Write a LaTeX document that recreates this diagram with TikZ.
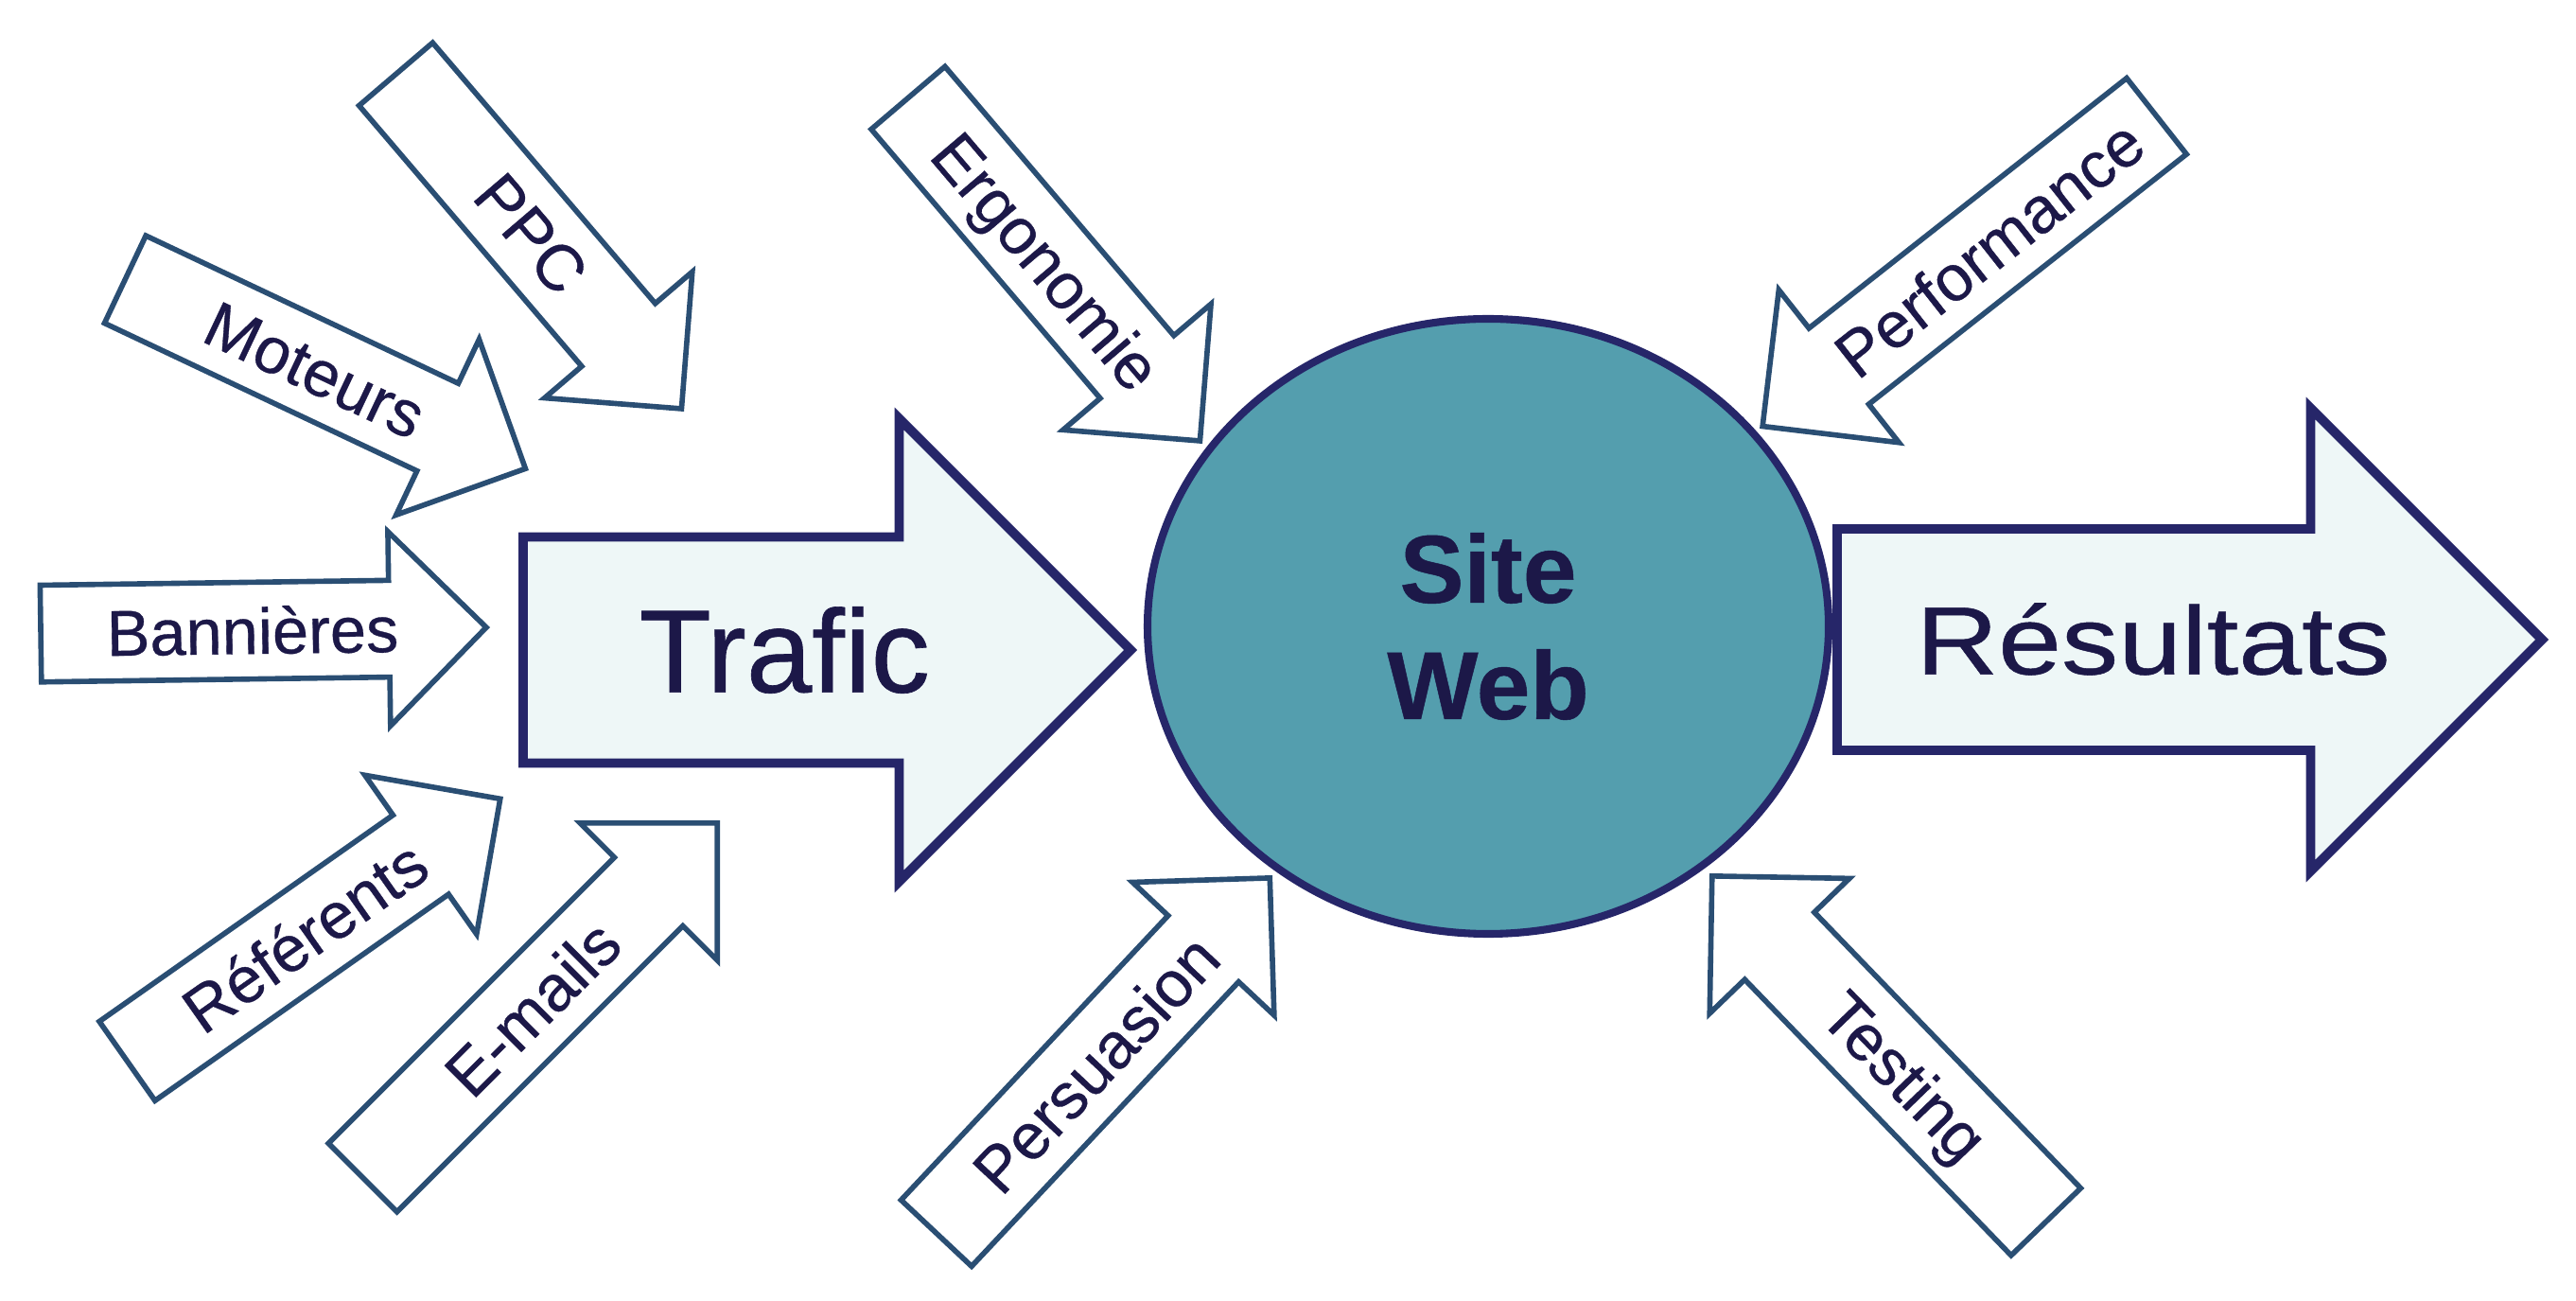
\documentclass[tikz,border=0pt]{standalone}
\usepackage{fontspec}
\setmainfont{Liberation Sans}[FakeBold=0.5]
\newfontfamily\widesans[FakeStretch=1.18,FakeBold=0.5]{Liberation Sans}
\usepackage{tikz}
\usetikzlibrary{shapes.arrows,shapes.geometric}
\definecolor{feedline}{RGB}{42,78,115}
\definecolor{bigline}{RGB}{38,38,105}
\definecolor{bigfill}{RGB}{238,247,247}
\definecolor{sitefill}{RGB}{84,158,174}
\definecolor{ink}{RGB}{28,24,72}

\begin{document}
\begin{tikzpicture}[
  feeder/.style={single arrow, draw=feedline, line width=1.6pt, fill=white,
    single arrow tip angle=90, single arrow head extend=0.515cm, minimum width=2cm,
    inner xsep=0.1cm, inner ysep=6.75pt, text height=14pt, text depth=0pt,
    font=\fontsize{19.5}{23}\selectfont, text=ink, anchor=tip,
    execute at end node={\hspace*{-0.28cm}}},
  bigarrow/.style={single arrow, draw=bigline, line width=2.8pt, fill=bigfill,
    single arrow tip angle=90, minimum width=4.8cm, inner xsep=0.1cm,
    text depth=0pt, text=ink, anchor=tip},
  hub/.style={ellipse, draw=bigline, line width=2.3pt, fill=sitefill,
    minimum width=7.2cm, minimum height=6.5cm, inner sep=0pt, align=center,
    font=\bfseries\fontsize{29}{35}\selectfont, text=ink}
]
\useasboundingbox (0,0) rectangle (27.23,-13.75);

\node[hub] (site) at (15.73,-6.62) {Site\\Web};

\node[bigarrow, minimum height=6.42cm, single arrow head extend=1.25cm, inner ysep=19.9pt,
  text height=25.4pt, font=\fontsize{35.5}{41}\selectfont] (trafic) at (12.02,-6.87) {Trafic\hspace*{-0.3cm}};
\node[bigarrow, minimum height=7.45cm, single arrow head extend=1.275cm, inner ysep=21.5pt,
  text height=20.8pt, font=\widesans\fontsize{29}{34}\selectfont] (resultats) at (26.94,-6.76) {Résultats\hspace*{-0.4cm}};

\node[feeder, rotate=-49.5, minimum height=4.65cm] (ppc) at (7.23,-4.35) {PPC};
\node[feeder, rotate=-25.3, minimum height=4.68cm] (moteurs) at (5.59,-4.97) {Moteurs};
\node[feeder, rotate=0.8, minimum height=4.71cm] (bannieres) at (5.18,-6.63) {Bannières};
\node[feeder, rotate=35.1, minimum height=4.82cm] (referents) at (5.32,-8.42) {Référents};
\node[feeder, rotate=45, minimum height=5.30cm] (emails) at (7.61,-8.67) {E-mails};

\node[feeder, rotate=-49.6, minimum height=4.76cm] (ergonomie) at (12.71,-4.69) {Ergonomie};
\node[feeder, rotate=38.2, shape border rotate=180, minimum height=5.30cm] (performance) at (18.60,-4.53) {Performance};
\node[feeder, rotate=46.8, minimum height=5.15cm] (persuasion) at (13.45,-9.25) {Persuasion};
\node[feeder, rotate=-46, shape border rotate=180, minimum height=5.08cm] (testing) at (18.07,-9.23) {Testing};

\end{tikzpicture}
\end{document}
